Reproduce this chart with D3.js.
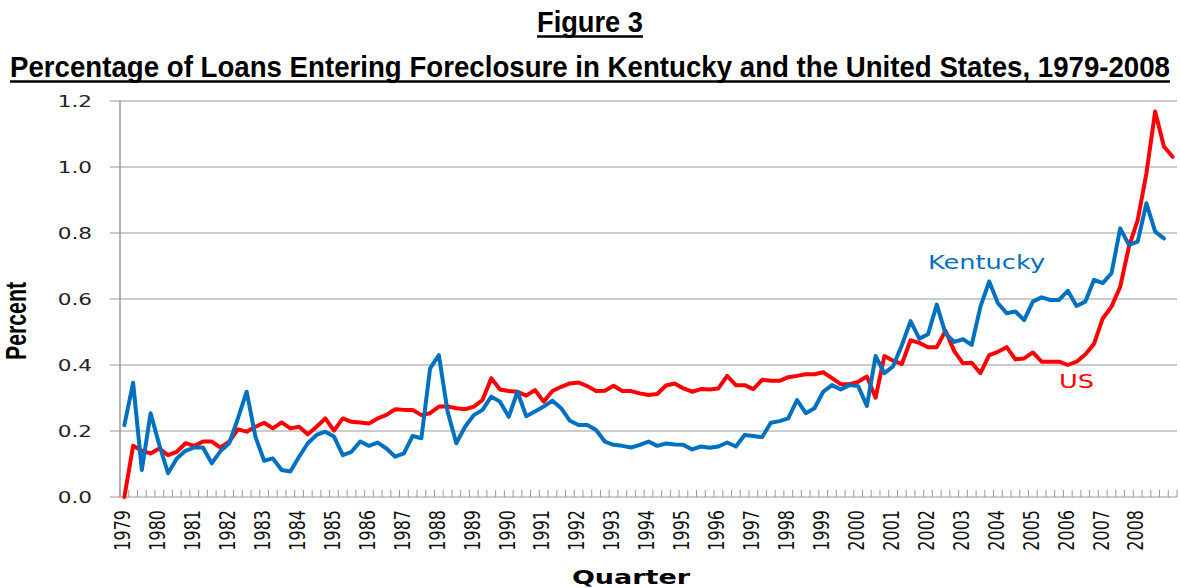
<!DOCTYPE html>
<html>
<head>
<meta charset="utf-8">
<script src="https://cdn.jsdelivr.net/npm/d3@7/dist/d3.min.js"></script>
<style>
  body { margin: 0; background: #fff; }
  text { font-family: "DejaVu Sans", Verdana, sans-serif; }
</style>
</head>
<body>
<script>
// ---- data ----
const yearLabels = ["1979","1980","1981","1982","1983","1984","1985","1986","1987","1988",
  "1989","1990","1991","1992","1993","1994","1995","1996","1997","1998",
  "1999","2000","2001","2002","2003","2004","2005","2006","2007","2008"];

const yTicks = [0, 0.2, 0.4, 0.6, 0.8, 1.0, 1.2];

const kentucky = [
  0.218,0.346,0.082,0.254,0.158,0.072,0.117,0.140,0.150,0.150,
  0.102,0.139,0.163,0.238,0.319,0.183,0.110,0.117,0.082,0.077,
  0.122,0.163,0.188,0.198,0.183,0.127,0.137,0.168,0.155,0.165,
  0.147,0.122,0.132,0.185,0.178,0.390,0.430,0.259,0.163,0.213,
  0.248,0.264,0.304,0.289,0.243,0.319,0.245,0.259,0.274,0.292,
  0.269,0.231,0.218,0.218,0.203,0.168,0.158,0.155,0.150,0.158,
  0.168,0.155,0.162,0.159,0.158,0.144,0.153,0.149,0.153,0.165,
  0.153,0.188,0.185,0.181,0.225,0.230,0.238,0.294,0.254,0.269,
  0.319,0.339,0.326,0.339,0.336,0.276,0.427,0.375,0.396,0.460,
  0.533,0.480,0.493,0.583,0.495,0.470,0.478,0.461,0.577,0.653,
  0.587,0.557,0.562,0.536,0.592,0.605,0.597,0.597,0.625,0.579,
  0.592,0.658,0.648,0.678,0.814,0.764,0.774,0.890,0.804,0.784
];

const us = [
  0.000,0.155,0.140,0.132,0.147,0.127,0.137,0.163,0.155,0.168,
  0.168,0.150,0.168,0.205,0.198,0.213,0.225,0.208,0.226,0.208,
  0.213,0.190,0.213,0.238,0.201,0.238,0.228,0.226,0.223,0.238,
  0.249,0.266,0.264,0.264,0.248,0.254,0.274,0.274,0.269,0.266,
  0.274,0.294,0.360,0.326,0.321,0.319,0.307,0.324,0.289,0.321,
  0.334,0.344,0.347,0.336,0.321,0.322,0.337,0.321,0.321,0.314,
  0.309,0.312,0.338,0.344,0.329,0.319,0.327,0.326,0.329,0.367,
  0.339,0.339,0.327,0.355,0.352,0.352,0.363,0.367,0.372,0.372,
  0.378,0.360,0.342,0.342,0.349,0.365,0.301,0.427,0.413,0.403,
  0.475,0.467,0.454,0.454,0.504,0.442,0.405,0.407,0.375,0.430,
  0.440,0.454,0.417,0.420,0.438,0.410,0.410,0.410,0.400,0.410,
  0.432,0.464,0.541,0.577,0.637,0.759,0.839,0.981,1.168,1.062,
  1.031
];

// one category per quarter; the US series runs one quarter longer
const quarters = [];
[...yearLabels, "2009"].forEach(yr => ["Q1","Q2","Q3","Q4"].forEach(q => quarters.push(yr + q)));
quarters.length = us.length;

// ---- drawing ----
const width = 1180, height = 588;
const SX = 1.35; // the source picture is stretched sideways, so is its text

const svg = d3.select("body").append("svg")
  .attr("width", width)
  .attr("height", height);

const x = d3.scaleBand().domain(quarters).range([120, 1177]);
const y = d3.scaleLinear().domain([0, 1.2]).range([497, 101]);
const cx = q => x(q) + x.bandwidth() / 2;

// titles
function title(txt, ty, len, size) {
  svg.append("text")
    .attr("x", 590).attr("y", ty)
    .attr("text-anchor", "middle")
    .attr("textLength", len)
    .attr("lengthAdjust", "spacingAndGlyphs")
    .style("font-family", "'Liberation Sans Narrow', 'Liberation Sans', sans-serif")
    .style("font-weight", "bold")
    .style("font-size", size + "px")
    .text(txt);
  svg.append("line")
    .attr("x1", 590 - len / 2).attr("x2", 590 + len / 2)
    .attr("y1", ty + 4.5).attr("y2", ty + 4.5)
    .attr("stroke", "#000").attr("stroke-width", 2.5);
}
title("Figure 3", 32, 106, 30);
title("Percentage of Loans Entering Foreclosure in Kentucky and the United States, 1979-2008", 77, 1160, 29);

// gridlines + y ticks
svg.append("g").selectAll("line").data(yTicks).join("line")
  .attr("x1", 110).attr("x2", 1177)
  .attr("y1", d => y(d)).attr("y2", d => y(d))
  .attr("stroke", "#9a9a9a").attr("stroke-width", 1.2);

svg.append("g").selectAll("text").data(yTicks).join("text")
  .attr("transform", d => `translate(92,${y(d)}) scale(${SX},1)`)
  .attr("dy", "0.36em")
  .attr("text-anchor", "end")
  .style("font-size", "16px")
  .style("fill", "#222")
  .text(d3.format(".1f"));

// y axis line
svg.append("line")
  .attr("x1", 120).attr("x2", 120)
  .attr("y1", y(1.2)).attr("y2", y(0))
  .attr("stroke", "#8a8a8a").attr("stroke-width", 1.3);

// x axis ticks between categories (inside)
const bounds = quarters.map(q => x(q)).concat([x.range()[1]]);
svg.append("g").selectAll("line").data(bounds).join("line")
  .attr("x1", d => d).attr("x2", d => d)
  .attr("y1", y(0) - 7).attr("y2", y(0))
  .attr("stroke", "#9a9a9a").attr("stroke-width", 1);

// year labels, rotated
svg.append("g").selectAll("text").data(yearLabels).join("text")
  .attr("transform", d => `translate(${cx(d + "Q1") - 2},510) scale(${SX},1) rotate(-90)`)
  .attr("dy", "0.36em")
  .attr("text-anchor", "end")
  .style("font-size", "16px")
  .style("fill", "#111")
  .text(d => d);

// axis titles
svg.append("text")
  .attr("transform", `translate(26,321) scale(${SX},1) rotate(-90)`)
  .attr("text-anchor", "middle")
  .attr("textLength", 78)
  .attr("lengthAdjust", "spacingAndGlyphs")
  .style("font-family", "'Liberation Sans Narrow', 'Liberation Sans', sans-serif")
  .style("font-weight", "bold")
  .style("font-size", "22px")
  .text("Percent");

svg.append("text")
  .attr("transform", `translate(631,584) scale(${SX},1)`)
  .attr("text-anchor", "middle")
  .style("font-weight", "bold")
  .style("font-size", "20px")
  .text("Quarter");

// series
const line = d3.line()
  .x((d, i) => cx(quarters[i]))
  .y(d => y(d));

svg.append("path").datum(us)
  .attr("fill", "none").attr("stroke", "#ff0000")
  .attr("stroke-width", 4).attr("stroke-linejoin", "round").attr("stroke-linecap", "round")
  .attr("d", line);

svg.append("path").datum(kentucky)
  .attr("fill", "none").attr("stroke", "#0070c0")
  .attr("stroke-width", 4).attr("stroke-linejoin", "round").attr("stroke-linecap", "round")
  .attr("d", line);

// series labels
svg.append("text")
  .attr("transform", `translate(928,269) scale(${SX},1)`)
  .style("font-size", "19px").style("fill", "#0070c0")
  .text("Kentucky");

svg.append("text")
  .attr("transform", `translate(1059,388) scale(${SX},1)`)
  .style("font-size", "19px").style("fill", "#ff0000")
  .text("US");
</script>
</body>
</html>
